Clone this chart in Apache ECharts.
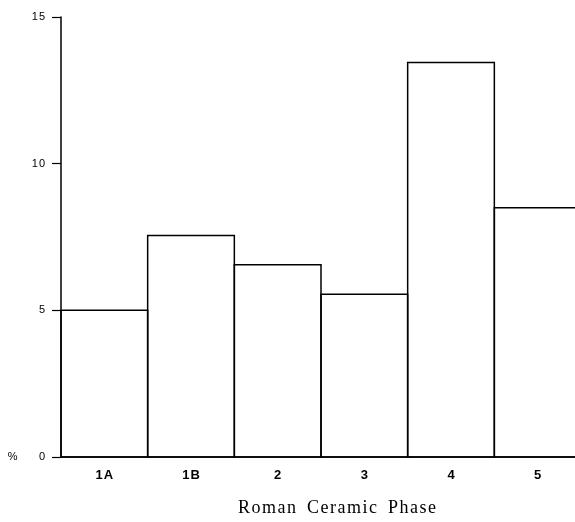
<!DOCTYPE html>
<html>
<head>
<meta charset="utf-8">
<script src="https://cdn.jsdelivr.net/npm/echarts@6/dist/echarts.min.js"></script>
<style>html,body{margin:0;padding:0;background:#fff;overflow:hidden;}#c{width:585px;height:522px;}</style>
</head>
<body>
<div id="c"></div>
<script>
const categories = ['1A', '1B', '2', '3', '4', '5'];
const values = [5.0, 7.55, 6.55, 5.55, 13.45, 8.5];
const yTicks = [0, 5, 10, 15];
const xTitle = 'Roman Ceramic Phase';

function spaced(s) {
  return s.split('').map(ch => ch === ' ' ? ' \u2009' : ch).join('\u200a');
}

const chart = echarts.init(document.getElementById('c'), null, {renderer: 'canvas'});
chart.setOption({
  animation: false,
  backgroundColor: '#fff',
  grid: {left: 61, right: 4, top: 17, bottom: 59, containLabel: false},
  xAxis: {
    type: 'category',
    data: categories,
    boundaryGap: true,
    axisLine: {lineStyle: {color: '#000', width: 1.5}},
    axisTick: {show: false},
    axisLabel: {
      color: '#000', fontFamily: 'Liberation Sans', fontWeight: 'bold', fontSize: 13, margin: 12,
      formatter: v => v.split('').join('\u200a')
    },
    name: spaced(xTitle),
    nameLocation: 'middle',
    nameGap: 42,
    nameTextStyle: {color: '#000', fontFamily: 'Liberation Serif', fontSize: 18, padding: [0, 0, 0, 32]}
  },
  yAxis: {
    type: 'value',
    min: yTicks[0],
    max: yTicks[yTicks.length - 1],
    interval: 5,
    axisLine: {show: true, lineStyle: {color: '#000', width: 1.5}},
    axisTick: {show: true, length: 9, lineStyle: {color: '#000', width: 1.2}},
    splitLine: {show: false},
    axisLabel: {
      color: '#000', fontFamily: 'Liberation Sans', fontSize: 11, margin: 16,
      formatter: v => v === 0 ? '%       0' : String(v).split('').join('\u200a')
    }
  },
  series: [{
    type: 'custom',
    data: values.map((v, i) => [i, v]),
    encode: {x: 0, y: 1},
    silent: true,
    renderItem: function (params, api) {
      const i = api.value(0);
      const top = api.coord([i, api.value(1)]);
      const base = api.coord([i, 0]);
      const w = api.size([1, 0])[0];
      return {
        type: 'rect',
        shape: {x: top[0] - w / 2, y: top[1], width: w, height: base[1] - top[1]},
        style: {fill: 'none', stroke: '#000', lineWidth: 1.5}
      };
    }
  }]
});
</script>
</body>
</html>
